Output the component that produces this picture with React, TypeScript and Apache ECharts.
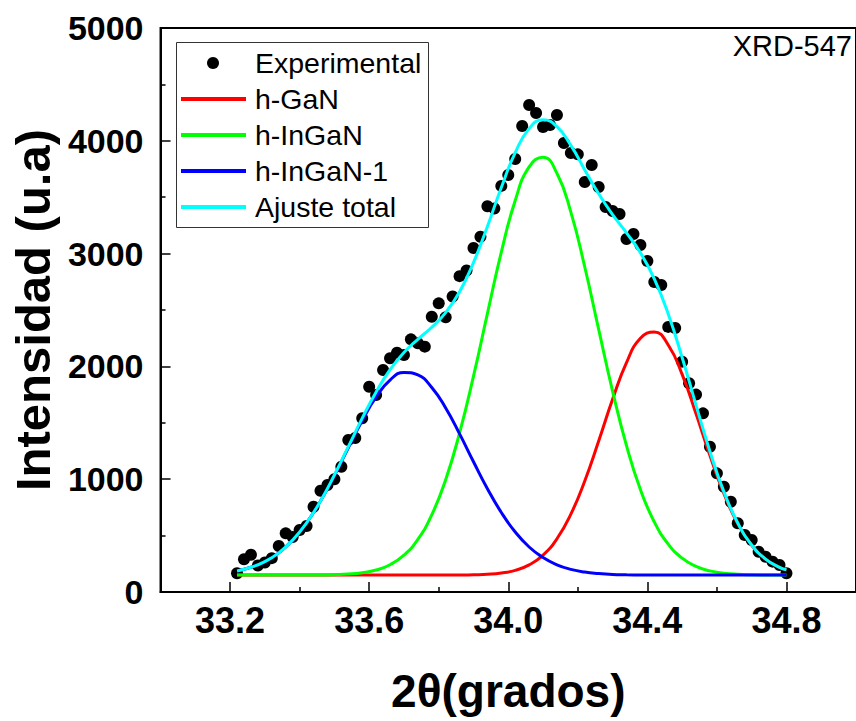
import React, { useEffect, useRef } from "react";
import * as echarts from "echarts";

// Experimental XRD points (2θ, intensity)
const expTheta = [
  33.22, 33.24, 33.26, 33.28, 33.30, 33.32, 33.34, 33.36, 33.38, 33.40,
  33.42, 33.44, 33.46, 33.48, 33.50, 33.52, 33.54, 33.56, 33.58, 33.60,
  33.62, 33.64, 33.66, 33.68, 33.70, 33.72, 33.74, 33.76, 33.78, 33.80,
  33.82, 33.84, 33.86, 33.88, 33.90, 33.92, 33.94, 33.96, 33.98, 34.00,
  34.02, 34.04, 34.06, 34.08, 34.10, 34.12, 34.14, 34.16, 34.18, 34.20,
  34.22, 34.24, 34.26, 34.28, 34.30, 34.32, 34.34, 34.36, 34.38, 34.40,
  34.42, 34.44, 34.46, 34.48, 34.50, 34.52, 34.54, 34.56, 34.58, 34.60,
  34.62, 34.64, 34.66, 34.68, 34.70, 34.72, 34.74, 34.76, 34.78, 34.80,
];
const expIntensity = [
  166, 290, 330, 235, 262, 300, 408, 520, 488, 550,
  585, 756, 898, 948, 999, 1111, 1347, 1365, 1540, 1820,
  1746, 1968, 2072, 2121, 2101, 2240, 2205, 2175, 2440, 2559,
  2435, 2620, 2800, 2850, 3050, 3150, 3420, 3400, 3600, 3697,
  3839, 4131, 4317, 4246, 4122, 4140, 4229, 3980, 3892, 3880,
  3635, 3785, 3590, 3413, 3378, 3351, 3129, 3174, 3076, 2934,
  2748, 2722, 2350, 2340, 2042, 1850, 1750, 1584, 1288, 1052,
  933, 800, 609, 505, 461, 357, 313, 269, 239, 166,
];

// Fitted components
const fitTheta = [
  33.22, 33.26, 33.30, 33.34, 33.38, 33.42, 33.46, 33.50, 33.54, 33.58,
  33.62, 33.66, 33.70, 33.74, 33.78, 33.82, 33.86, 33.90, 33.94, 33.98,
  34.02, 34.06, 34.10, 34.14, 34.18, 34.22, 34.26, 34.30, 34.34, 34.38,
  34.42, 34.46, 34.50, 34.54, 34.58, 34.62, 34.66, 34.70, 34.74, 34.78,
  34.80,
];
const hGaN = [
  150, 150, 150, 150, 150, 150, 150, 150, 150, 150,
  150, 150, 150, 150, 150, 150, 150, 153, 157, 168,
  192, 240, 327, 472, 690, 984, 1338, 1708, 2034, 2249,
  2305, 2190, 1929, 1580, 1209, 873, 605, 414, 291, 219,
  197,
];
const hInGaN = [
  150, 150, 150, 150, 150, 150, 151, 154, 159, 171,
  195, 242, 326, 466, 684, 996, 1410, 1913, 2468, 3013,
  3471, 3769, 3854, 3712, 3368, 2881, 2328, 1781, 1297, 908,
  621, 425, 300, 227, 187, 167, 157, 153, 151, 150,
  150,
];
const hInGaN1 = [
  187, 219, 269, 347, 460, 613, 806, 1033, 1279, 1520,
  1729, 1879, 1947, 1924, 1813, 1631, 1402, 1155, 916, 705,
  532, 399, 305, 241, 201, 177, 164, 156, 153, 151,
  150, 150, 150, 150, 150, 150, 150, 150, 150, 150,
  150,
];
const ajusteTotal = [
  187, 219, 269, 347, 460, 613, 807, 1037, 1288, 1541,
  1774, 1971, 2123, 2240, 2347, 2477, 2662, 2921, 3241, 3586,
  3895, 4108, 4186, 4125, 3959, 3742, 3530, 3345, 3184, 3008,
  2776, 2465, 2079, 1657, 1246, 890, 612, 417, 292, 219,
  197,
];

const xMajorTicks = [33.2, 33.6, 34.0, 34.4, 34.8];
const xMinorTicks = [33.4, 33.8, 34.2, 34.6];
const seriesNames = ["Experimental", "h-GaN", "h-InGaN", "h-InGaN-1", "Ajuste total"];
const seriesColors = ["#000000", "#ff0000", "#00ff00", "#0000ff", "#00ffff"];
const sampleLabel = "XRD-547";

const FONT = "'Liberation Sans', Arial, sans-serif";

function pairs(xs: number[], ys: number[]) {
  return xs.map((x, i) => [x, ys[i]]);
}

export default function App() {
  const ref = useRef<HTMLDivElement>(null);

  useEffect(() => {
    if (!ref.current) return;
    const chart = echarts.init(ref.current, undefined, { renderer: "svg" });

    const lineSeries = [hGaN, hInGaN, hInGaN1, ajusteTotal].map((vals, k) => ({
      name: seriesNames[k + 1],
      type: "line",
      xAxisIndex: 0,
      yAxisIndex: 0,
      data: pairs(fitTheta, vals),
      smooth: true,
      symbol: "none",
      showSymbol: false,
      lineStyle: { color: seriesColors[k + 1], width: 3 },
      itemStyle: { color: seriesColors[k + 1] },
      z: 3 + k,
    }));

    const legendX = 176.5;
    const legendY = 42.5;
    const rowY = [63, 99, 135, 171, 207];
    const legendGraphics: any[] = [
      {
        type: "rect",
        shape: { x: legendX, y: legendY, width: 252, height: 185 },
        style: { fill: "none", stroke: "#333", lineWidth: 1 },
        z: 10,
      },
      {
        type: "circle",
        shape: { cx: 213, cy: rowY[0], r: 6 },
        style: { fill: seriesColors[0] },
        z: 10,
      },
    ];
    for (let k = 1; k < 5; k++) {
      legendGraphics.push({
        type: "line",
        shape: { x1: 181, y1: rowY[k], x2: 246, y2: rowY[k] },
        style: { stroke: seriesColors[k], lineWidth: 4 },
        z: 10,
      });
    }
    for (let k = 0; k < 5; k++) {
      legendGraphics.push({
        type: "text",
        x: 255,
        y: rowY[k],
        style: {
          text: seriesNames[k],
          font: `28.5px ${FONT}`,
          fill: "#000",
          verticalAlign: "middle",
          align: "left",
        },
        z: 10,
      });
    }
    legendGraphics.push({
      type: "text",
      x: 852,
      y: 46,
      style: {
        text: sampleLabel,
        font: `29px ${FONT}`,
        fill: "#000",
        verticalAlign: "middle",
        align: "right",
      },
      z: 10,
    });

    chart.setOption({
      animation: false,
      backgroundColor: "#fff",
      grid: {
        left: 159,
        top: 28,
        width: 700,
        height: 564,
        show: true,
        borderColor: "#000",
        borderWidth: 2,
        backgroundColor: "transparent",
      },
      xAxis: [
        {
          type: "value",
          position: "bottom",
          min: 33,
          max: 35,
          axisLine: { show: true, onZero: false, lineStyle: { color: "#000", width: 2 } },
          axisTick: {
            show: true,
            inside: true,
            length: 10,
            customValues: xMajorTicks,
            lineStyle: { color: "#000", width: 1.5 },
          },
          axisLabel: {
            customValues: xMajorTicks,
            formatter: (v: number) => v.toFixed(1),
            fontSize: 36,
            fontWeight: "bold",
            fontFamily: FONT,
            color: "#000",
            margin: 10,
          },
          splitLine: { show: false },
          name: "2θ(grados)",
          nameLocation: "middle",
          nameGap: 76,
          nameTextStyle: { fontSize: 46, fontWeight: "bold", fontFamily: FONT, color: "#000" },
        },
        {
          type: "value",
          position: "bottom",
          min: 33,
          max: 35,
          axisLine: { show: false, onZero: false },
          axisTick: {
            show: true,
            inside: true,
            length: 5,
            customValues: xMinorTicks,
            lineStyle: { color: "#000", width: 1.5 },
          },
          axisLabel: { show: false },
          splitLine: { show: false },
        },
      ],
      yAxis: {
        type: "value",
        min: 0,
        max: 5000,
        interval: 1000,
        axisLine: { show: true, onZero: false, lineStyle: { color: "#000", width: 2 } },
        axisTick: { show: true, inside: true, length: 10, lineStyle: { color: "#000", width: 1.5 } },
        minorTick: { show: true, splitNumber: 2, length: 5, lineStyle: { color: "#000", width: 1.5 } },
        axisLabel: {
          formatter: (v: number) => String(v),
          fontSize: 34,
          fontWeight: "bold",
          fontFamily: FONT,
          color: "#000",
          margin: 17,
        },
        splitLine: { show: false },
        minorSplitLine: { show: false },
        name: "Intensidad (u.a)",
        nameLocation: "middle",
        nameGap: 93,
        nameTextStyle: { fontSize: 49, fontWeight: "bold", fontFamily: FONT, color: "#000" },
      },
      series: [
        {
          name: seriesNames[0],
          type: "scatter",
          xAxisIndex: 0,
          yAxisIndex: 0,
          data: pairs(expTheta, expIntensity),
          symbol: "circle",
          symbolSize: 12,
          itemStyle: { color: seriesColors[0], opacity: 1 },
          z: 2,
        },
        ...lineSeries,
      ],
      graphic: legendGraphics,
    });

    return () => chart.dispose();
  }, []);

  return (
    <div
      ref={ref}
      style={{ position: "fixed", left: 0, top: 0, width: 856, height: 721 }}
    />
  );
}
